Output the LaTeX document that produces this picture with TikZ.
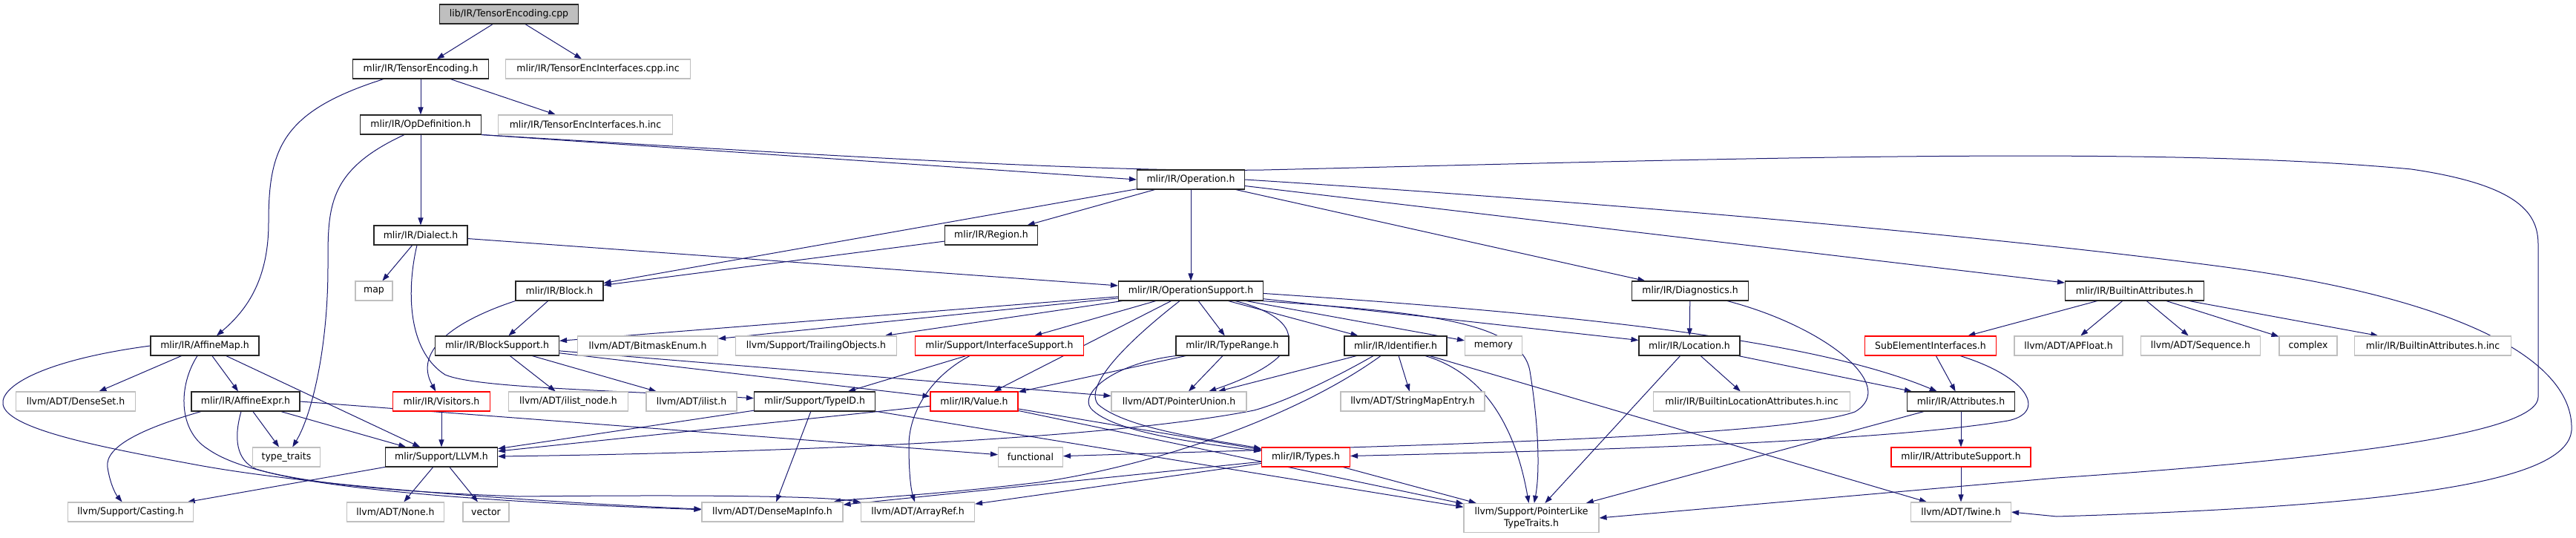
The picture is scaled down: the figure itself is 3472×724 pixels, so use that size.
\documentclass[tikz,border=0pt]{standalone}
\usepackage{fontspec}
\setmainfont[FakeStretch=0.96]{DejaVu Sans}
\usepackage{xcolor}
\usetikzlibrary{arrows.meta,backgrounds}
\definecolor{edgeblue}{HTML}{191970}
\definecolor{extgrey}{HTML}{BFBFBF}

\begin{document}
\begin{tikzpicture}[
  x=1pt, y=-1pt,
  box/.style={rectangle, draw, line width=1.1pt, fill=white, minimum height=26pt, inner xsep=2pt, inner ysep=1pt, align=center, font=\fontsize{13}{15.5}\selectfont},
  hdr/.style={box, draw=black!85},
  ext/.style={box, draw=extgrey},
  redbox/.style={box, draw=red},
  rootbox/.style={box, draw=black!85, fill=extgrey},
  dep/.style={-{Triangle[length=10pt,width=7pt]}, draw=edgeblue, line width=1pt}
]
\useasboundingbox (0,0) rectangle (3472,724);

% Row 0 (the file itself)
\node[rootbox, minimum width=187] (cpp) at (686,19) {lib/IR/TensorEncoding.cpp};

% Rows 1-4
\node[hdr, minimum width=183] (tenc)    at (567,93)   {mlir/IR/TensorEncoding.h};
\node[ext, minimum width=249] (tenccpp) at (806,93)   {mlir/IR/TensorEncInterfaces.cpp.inc};
\node[hdr, minimum width=163] (opdef)   at (567,168)  {mlir/IR/OpDefinition.h};
\node[ext, minimum width=235] (tench)   at (789,168)  {mlir/IR/TensorEncInterfaces.h.inc};
\node[hdr, minimum width=145] (oper)    at (1605,242) {mlir/IR/Operation.h};
\node[hdr, minimum width=126] (dial)    at (567,317)  {mlir/IR/Dialect.h};
\node[hdr, minimum width=125] (region)  at (1336,317) {mlir/IR/Region.h};

% Row 5
\node[ext, minimum width=50]  (map)   at (504,392)  {map};
\node[hdr, minimum width=118] (block) at (754,392)  {mlir/IR/Block.h};
\node[hdr, minimum width=195] (opsup) at (1605,392) {mlir/IR/OperationSupport.h};
\node[hdr, minimum width=157] (diag)  at (2278,392) {mlir/IR/Diagnostics.h};
\node[hdr, minimum width=187] (battr) at (2877,392) {mlir/IR/BuiltinAttributes.h};

% Row 6
\node[hdr, minimum width=146]    (amap)     at (276,466)  {mlir/IR/AffineMap.h};
\node[hdr, minimum width=167]    (bsup)     at (670,466)  {mlir/IR/BlockSupport.h};
\node[ext, minimum width=189]    (bitmask)  at (873,466)  {llvm/ADT/BitmaskEnum.h};
\node[ext, minimum width=217]    (trail)    at (1100,466) {llvm/Support/TrailingObjects.h};
\node[redbox, minimum width=227] (ifsup)    at (1347,466) {mlir/Support/InterfaceSupport.h};
\node[hdr, minimum width=152]    (trange)   at (1661,466) {mlir/IR/TypeRange.h};
\node[hdr, minimum width=138]    (ident)    at (1881,466) {mlir/IR/Identifier.h};
\node[ext, minimum width=77]     (memory)   at (2013,466) {memory};
\node[hdr, minimum width=136]    (loc)      at (2277,466) {mlir/IR/Location.h};
\node[redbox, minimum width=177] (subel)    at (2602,466) {SubElementInterfaces.h};
\node[ext, minimum width=146]    (apfloat)  at (2788,466) {llvm/ADT/APFloat.h};
\node[ext, minimum width=161]    (seq)      at (2966,466) {llvm/ADT/Sequence.h};
\node[ext, minimum width=78]     (cplx)     at (3111,466) {complex};
\node[ext, minimum width=211]    (battrinc) at (3279,466) {mlir/IR/BuiltinAttributes.h.inc};

% Row 7
\node[ext, minimum width=161]    (dset)    at (102,541)  {llvm/ADT/DenseSet.h};
\node[hdr, minimum width=146]    (aexpr)   at (331,541)  {mlir/IR/AffineExpr.h};
\node[redbox, minimum width=131] (visit)   at (595,541)  {mlir/IR/Visitors.h};
\node[ext, minimum width=161]    (ilnode)  at (766,541)  {llvm/ADT/ilist\_node.h};
\node[ext, minimum width=122]    (ilist)   at (932,541)  {llvm/ADT/ilist.h};
\node[hdr, minimum width=163]    (typeid)  at (1098,541) {mlir/Support/TypeID.h};
\node[redbox, minimum width=118] (value)   at (1313,541) {mlir/IR/Value.h};
\node[ext, minimum width=182]    (punion)  at (1589,541) {llvm/ADT/PointerUnion.h};
\node[ext, minimum width=194]    (smentry) at (1904,541) {llvm/ADT/StringMapEntry.h};
\node[ext, minimum width=265]    (blocinc) at (2361,541) {mlir/IR/BuiltinLocationAttributes.h.inc};
\node[hdr, minimum width=145]    (attrs)   at (2643,541) {mlir/IR/Attributes.h};

% Row 8
\node[ext, minimum width=91]     (ttraits) at (386,616)  {type\_traits};
\node[hdr, minimum width=151]    (llvm)    at (595,616)  {mlir/Support/LLVM.h};
\node[ext, minimum width=87]     (func)    at (1389,616) {functional};
\node[redbox, minimum width=119] (types)   at (1760,616) {mlir/IR/Types.h};
\node[redbox, minimum width=188] (asup)    at (2643,616) {mlir/IR/AttributeSupport.h};

% Row 9
\node[ext, minimum width=169] (cast)   at (176,690)  {llvm/Support/Casting.h};
\node[ext, minimum width=131] (none)   at (533,690)  {llvm/ADT/None.h};
\node[ext, minimum width=62]  (vector) at (655,690)  {vector};
\node[ext, minimum width=190] (dmi)    at (1041,690) {llvm/ADT/DenseMapInfo.h};
\node[ext, minimum width=153] (aref)   at (1237,690) {llvm/ADT/ArrayRef.h};
\node[ext, minimum width=182, minimum height=39] (plike) at (2064,698) {llvm/Support/PointerLike\\TypeTraits.h};
\node[ext, minimum width=135] (twine)  at (2643,690) {llvm/ADT/Twine.h};

\begin{scope}[on background layer]
% from the top
\draw[dep] (cpp) -- (tenc);
\draw[dep] (cpp) -- (tenccpp);
\draw[dep] (tenc) -- (opdef);
\draw[dep] (tenc) -- (tench);
\draw[dep] ([xshift=-50]tenc.south) .. controls (380,150) and (362,200) .. (362,300) .. controls (362,380) and (330,420) .. (amap);

% OpDefinition.h
\draw[dep] (opdef) -- (dial);
\draw[dep] (opdef.south east) -- (oper.west);
\draw[dep] ([xshift=-22]opdef.south) .. controls (440,230) and (442,280) .. (442,360) .. controls (442,470) and (420,560) .. (ttraits);
\draw[dep] (opdef.south east) .. controls (1200,215) and (1500,232) .. (1703,229) .. controls (2300,215) and (2900,195) .. (3250,228) .. controls (3400,250) and (3421,290) .. (3421,330) -- (3421,535) .. controls (3421,580) and (3200,615) .. (2772,644) -- (plike.east);

% Operation.h
\draw[dep] (oper) -- (opsup);
\draw[dep] (oper) -- (block);
\draw[dep] (oper) -- (region);
\draw[dep] (oper) -- (diag);
\draw[dep] (oper) -- (battr);
\draw[dep] (oper.east) .. controls (2200,275) and (2700,320) .. (3000,360) .. controls (3300,400) and (3470,480) .. (3466,580) .. controls (3460,640) and (3300,680) .. (2772,696) -- (twine.east);
\draw[dep] (region) -- (block);

% Dialect.h
\draw[dep] (dial) -- (map);
\draw[dep] (dial) -- (opsup);
\draw[dep] ([xshift=-5]dial.south) .. controls (550,380) and (545,470) .. (600,505) .. controls (640,522) and (800,525) .. (typeid);

% Block.h and BlockSupport.h
\draw[dep] (block) -- (bsup);
\draw[dep] (block.south west) .. controls (620,430) and (555,470) .. (visit);
\draw[dep] (bsup) -- (ilnode);
\draw[dep] (bsup) -- (ilist);
\draw[dep] (bsup) -- (value);
\draw[dep] (bsup) -- (punion);
\draw[dep] (visit) -- (llvm);

% AffineMap.h and AffineExpr.h
\draw[dep] (amap) -- (dset);
\draw[dep] (amap) -- (aexpr);
\draw[dep] (amap) -- (llvm);
\draw[dep] (amap.west) .. controls (60,485) and (0,520) .. (4,545) .. controls (10,580) and (150,605) .. (268,627) .. controls (450,660) and (800,680) .. (dmi);
\draw[dep] ([xshift=-10]amap.south) .. controls (240,520) and (240,580) .. (280,605) .. controls (330,640) and (450,660) .. (700,669) .. controls (1000,666) and (1120,670) .. (aref);
\draw[dep] (aexpr) -- (ttraits);
\draw[dep] (aexpr) -- (llvm);
\draw[dep] (aexpr.east) -- (func);
\draw[dep] ([xshift=-60]aexpr.south) .. controls (200,575) and (140,600) .. (145,630) .. controls (148,650) and (155,665) .. (cast);
\draw[dep] ([xshift=-6]aexpr.south) .. controls (315,590) and (318,620) .. (345,632) .. controls (450,665) and (750,680) .. (dmi);

% LLVM.h
\draw[dep] (llvm) -- (cast);
\draw[dep] (llvm) -- (none);
\draw[dep] (llvm) -- (vector);

% TypeID.h, Value.h, InterfaceSupport.h
\draw[dep] (typeid) -- (llvm);
\draw[dep] (typeid) -- (dmi);
\draw[dep] (typeid) -- (plike);
\draw[dep] (value) -- (llvm);
\draw[dep] (value) -- (types);
\draw[dep] (value) -- (plike);
\draw[dep] (ifsup) -- (typeid);
\draw[dep] ([xshift=-40]ifsup.south) .. controls (1250,510) and (1225,560) .. (1225,600) .. controls (1225,640) and (1228,660) .. (aref);

% OperationSupport.h
\draw[dep] (opsup) -- (bsup);
\draw[dep] (opsup) -- (bitmask);
\draw[dep] (opsup) -- (trail);
\draw[dep] (opsup) -- (ifsup);
\draw[dep] (opsup) -- (trange);
\draw[dep] (opsup) -- (ident);
\draw[dep] (opsup) -- (memory);
\draw[dep] (opsup) -- (value);
\draw[dep] (opsup) -- (loc);
\draw[dep] ([xshift=60]opsup.south) .. controls (1760,430) and (1770,480) .. (punion);
\draw[dep] ([xshift=-15]opsup.south) .. controls (1520,460) and (1460,520) .. (1480,545) .. controls (1520,580) and (1650,595) .. (types);
\draw[dep] (opsup.-8) .. controls (1900,420) and (2050,430) .. (2062,500) .. controls (2075,580) and (2075,640) .. (plike);
\draw[dep] (opsup.-2) .. controls (2150,425) and (2450,460) .. (attrs);

% TypeRange.h
\draw[dep] (trange) -- (punion);
\draw[dep] (trange) -- (value);
\draw[dep] (trange.south west) .. controls (1500,490) and (1455,530) .. (1470,550) .. controls (1500,585) and (1640,600) .. (types);

% Identifier.h
\draw[dep] (ident) -- (punion);
\draw[dep] (ident) -- (smentry);
\draw[dep] (ident) -- (twine);
\draw[dep] ([xshift=-30]ident.south) .. controls (1780,520) and (1720,545) .. (1690,553) .. controls (1450,600) and (900,612) .. (llvm);
\draw[dep] ([xshift=-20]ident.south) .. controls (1750,560) and (1560,627) .. (1400,650) .. controls (1250,668) and (1150,672) .. (dmi);
\draw[dep] ([xshift=40]ident.south) .. controls (1990,500) and (2040,560) .. (plike);

% Types.h
\draw[dep] (types) -- (dmi);
\draw[dep] (types) -- (aref);
\draw[dep] (types) -- (plike);

% Diagnostics.h, Location.h, Attributes.h
\draw[dep] (diag) -- (loc);
\draw[dep] ([xshift=50]diag.south) .. controls (2460,440) and (2560,520) .. (2500,555) .. controls (2400,590) and (1900,600) .. (func);
\draw[dep] (loc) -- (blocinc);
\draw[dep] (loc) -- (attrs);
\draw[dep] (loc) -- (plike);
\draw[dep] (attrs) -- (asup);
\draw[dep] (attrs) -- (plike);
\draw[dep] (asup) -- (twine);

% SubElementInterfaces.h and BuiltinAttributes.h
\draw[dep] (subel) -- (attrs);
\draw[dep] ([xshift=40]subel.south) .. controls (2740,510) and (2760,560) .. (2700,568) .. controls (2500,600) and (2000,610) .. (types);
\draw[dep] (battr) -- (subel);
\draw[dep] (battr) -- (apfloat);
\draw[dep] (battr) -- (seq);
\draw[dep] (battr) -- (cplx);
\draw[dep] (battr) -- (battrinc);
\end{scope}

\end{tikzpicture}
\end{document}
